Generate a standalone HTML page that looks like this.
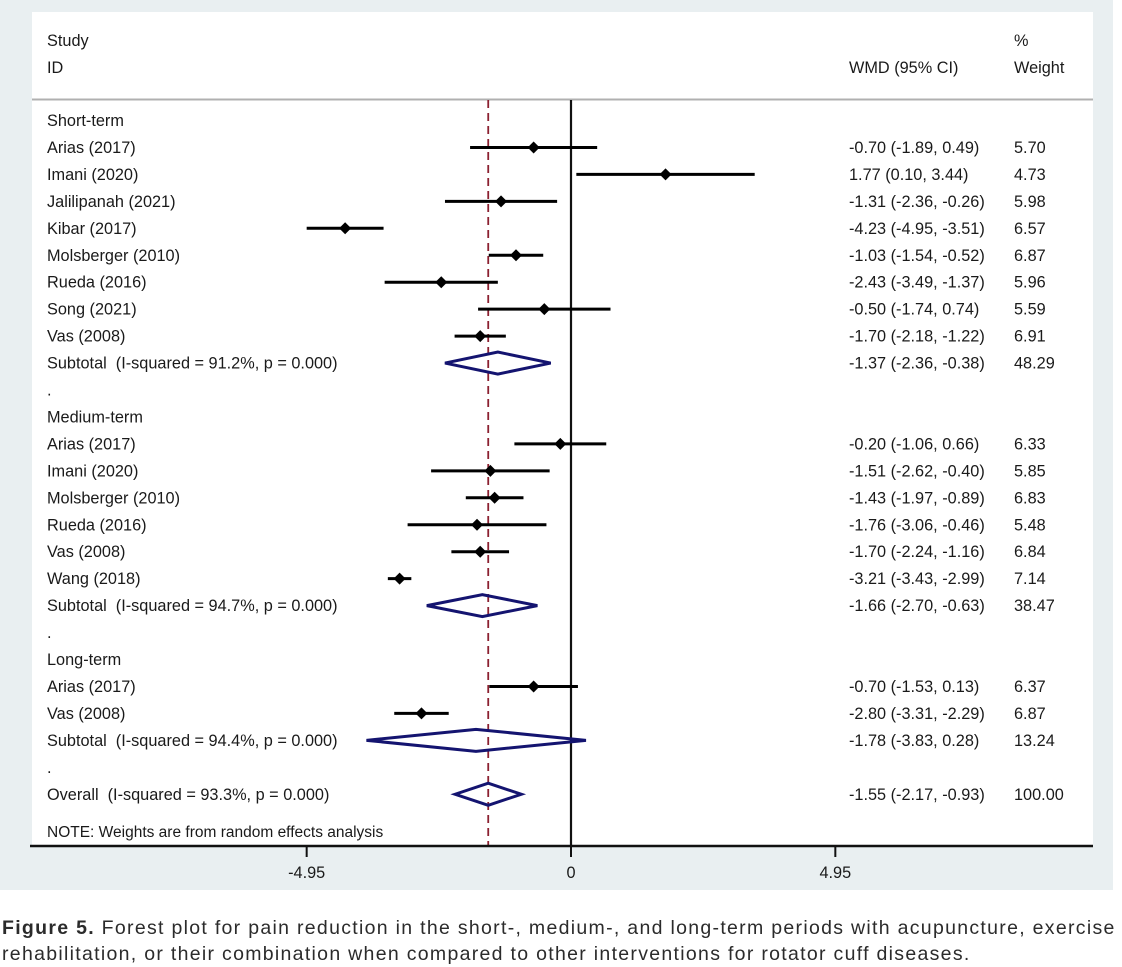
<!DOCTYPE html>
<html><head><meta charset="utf-8"><style>
html,body{margin:0;padding:0;background:#fff;width:1122px;height:967px;overflow:hidden}
svg{display:block;font-family:"Liberation Sans",Arial,sans-serif}
svg text{white-space:pre}
.cap{position:absolute;left:2px;top:915px;width:1125px;white-space:nowrap;font-family:"Liberation Sans",sans-serif;font-size:19.5px;line-height:26px;color:#2b2b2b;letter-spacing:1.3px}
</style></head><body>
<svg id="chart" width="1122" height="967">
<rect x="0" y="0" width="1113" height="890" fill="#e9eff1"/>
<rect x="32" y="12" width="1061" height="834" fill="#ffffff"/>
<line x1="32" y1="99.5" x2="1093" y2="99.5" stroke="#b0b0b0" stroke-width="2"/>
<g font-size="16.3" fill="#1a1a1a">
<text x="47" y="46">Study</text>
<text x="47" y="73">ID</text>
<text x="849" y="73">WMD (95% CI)</text>
<text x="1014" y="46">%</text>
<text x="1014" y="73">Weight</text>
</g>
<g id="marks"></g>
<g id="labels" font-size="16.3" fill="#1a1a1a"></g>
</svg>
<div class="cap"><b style="font-weight:bold">Figure 5.</b> Forest plot for pain reduction in the short-, medium-, and long-term periods with acupuncture, exercise<br>rehabilitation, or their combination when compared to other interventions for rotator cuff diseases.</div>
<script>
const rowLabels = ["Short-term","Arias (2017)","Imani (2020)","Jalilipanah (2021)","Kibar (2017)","Molsberger (2010)","Rueda (2016)","Song (2021)","Vas (2008)","Subtotal  (I-squared = 91.2%, p = 0.000)",".","Medium-term","Arias (2017)","Imani (2020)","Molsberger (2010)","Rueda (2016)","Vas (2008)","Wang (2018)","Subtotal  (I-squared = 94.7%, p = 0.000)",".","Long-term","Arias (2017)","Vas (2008)","Subtotal  (I-squared = 94.4%, p = 0.000)",".","Overall  (I-squared = 93.3%, p = 0.000)"];
const rowType = ["h","s","s","s","s","s","s","s","s","d","h","h","s","s","s","s","s","s","d","h","h","s","s","d","h","d"];
const estimates = [null,-0.70,1.77,-1.31,-4.23,-1.03,-2.43,-0.50,-1.70,-1.37,null,null,-0.20,-1.51,-1.43,-1.76,-1.70,-3.21,-1.66,null,null,-0.70,-2.80,-1.78,null,-1.55];
const lowerCI = [null,-1.89,0.10,-2.36,-4.95,-1.54,-3.49,-1.74,-2.18,-2.36,null,null,-1.06,-2.62,-1.97,-3.06,-2.24,-3.43,-2.70,null,null,-1.53,-3.31,-3.83,null,-2.17];
const upperCI = [null,0.49,3.44,-0.26,-3.51,-0.52,-1.37,0.74,-1.22,-0.38,null,null,0.66,-0.40,-0.89,-0.46,-1.16,-2.99,-0.63,null,null,0.13,-2.29,0.28,null,-0.93];
const weights = [null,"5.70","4.73","5.98","6.57","6.87","5.96","5.59","6.91","48.29",null,null,"6.33","5.85","6.83","5.48","6.84","7.14","38.47",null,null,"6.37","6.87","13.24",null,"100.00"];
const tickValues = [-4.95,0,4.95];
const tickLabels = ["-4.95","0","4.95"];
const overallEffect = -1.55;

const NS="http://www.w3.org/2000/svg";
const x0=571, pxPerUnit=53.4;
function xs(v){return x0+v*pxPerUnit;}
function ys(i){return 120.5+26.95*i;}
function mk(tag,attrs,parent){const e=document.createElementNS(NS,tag);for(const k in attrs)e.setAttribute(k,attrs[k]);parent.appendChild(e);return e;}
const marks=document.getElementById('marks'), labels=document.getElementById('labels'), svg=document.getElementById('chart');

let ax=mk('line',{x1:30,y1:846,x2:1093,y2:846,stroke:'#111','stroke-width':2.5},svg);


tickValues.forEach((v,k)=>{
  let t=mk('line',{x1:xs(v),y1:846,x2:xs(v),y2:857,stroke:'#111','stroke-width':2},svg);
  
  
  let tl=mk('text',{x:xs(v),y:878,'text-anchor':'middle','font-size':16.3,fill:'#1a1a1a'},svg);
  tl.textContent=tickLabels[k];
  
  
});
let zl=mk('line',{x1:xs(0),y1:100,x2:xs(0),y2:846,stroke:'#111','stroke-width':2.2},marks);


let dl=mk('line',{x1:xs(overallEffect),y1:100,x2:xs(overallEffect),y2:846,stroke:'#8b2030','stroke-width':1.8,'stroke-dasharray':'8,5'},marks);



rowLabels.forEach((lab,i)=>{
  const y=ys(i);
  let t=mk('text',{x:47,y:y+5.5},labels);
  t.textContent=lab;
  
  
  if(estimates[i]===null)return;
  const e=estimates[i],lo=lowerCI[i],hi=upperCI[i];
  let ci=mk('text',{x:849,y:y+5.5},labels);
  ci.textContent=e.toFixed(2)+" ("+lo.toFixed(2)+", "+hi.toFixed(2)+")";
  
  
  let w=mk('text',{x:1014,y:y+5.5},labels);
  w.textContent=weights[i];
  
  
  if(rowType[i]==='s'){
    let l=mk('line',{x1:xs(lo),y1:y,x2:xs(hi),y2:y,stroke:'#000','stroke-width':3},marks);
    
    
    const cx=xs(e);
    let p=mk('polygon',{points:`${cx-6},${y} ${cx},${y-6} ${cx+6},${y} ${cx},${y+6}`,fill:'#000'},marks);
    
    
  } else {
    const cx=xs(e);
    let d=mk('polygon',{points:`${xs(lo)},${y} ${cx},${y-11} ${xs(hi)},${y} ${cx},${y+11}`,fill:'none',stroke:'#141470','stroke-width':3},marks);
    
    
  }
});
let note=mk('text',{x:47,y:837,'font-size':15.5,fill:'#1a1a1a'},svg);
note.textContent="NOTE: Weights are from random effects analysis";


</script>
</body></html>
